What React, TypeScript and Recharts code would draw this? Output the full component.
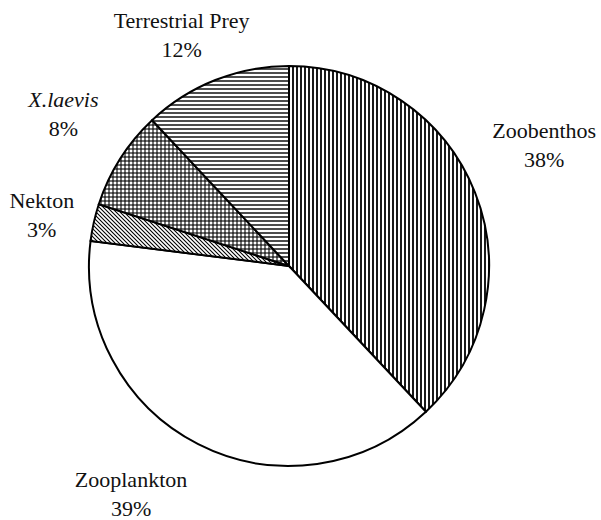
import { PieChart, Pie, Cell } from 'recharts'

const categories = ['Zoobenthos', 'Zooplankton', 'Nekton', 'X.laevis', 'Terrestrial Prey']
const shares = [38, 39, 3, 8, 12]

const data = categories.map((name, i) => ({ name, value: shares[i] }))

// fill pattern for each slice, same order as categories
const fills = ['url(#vert)', '#ffffff', 'url(#diag)', 'url(#cross)', 'url(#horiz)']
// nudges so labels sit where the original placed them
const nudges = [
  [32, -40],
  [-49, 7],
  [-13, -6],
  [-23, -30],
  [-19, -15],
]

const FONT = 'Liberation Serif'
const RAD = Math.PI / 180

function renderLabel(props: any) {
  const { cx, cy, midAngle, outerRadius, index } = props
  const r = outerRadius + 40
  const x = cx + r * Math.cos(-midAngle * RAD) + nudges[index][0]
  const y = cy + r * Math.sin(-midAngle * RAD) + nudges[index][1]
  const italic = categories[index] === 'X.laevis'
  return (
    <text x={x} y={y} textAnchor="middle" fill="#111" style={{ fontFamily: FONT, fontSize: 22 }}>
      <tspan x={x} fontStyle={italic ? 'italic' : 'normal'}>
        {categories[index]}
      </tspan>
      <tspan x={x} dy={29}>
        {shares[index]}%
      </tspan>
    </text>
  )
}

export default function App() {
  return (
    <div style={{ position: 'absolute', left: 0, top: 0, background: '#fff' }}>
      <PieChart width={601} height={520} margin={{ top: 0, right: 0, bottom: 0, left: 0 }}>
        <defs>
          <pattern id="vert" width="4" height="4" patternUnits="userSpaceOnUse">
            <rect width="4" height="4" fill="#fff" />
            <line x1="1" y1="0" x2="1" y2="4" stroke="#000" strokeWidth="1.8" />
          </pattern>
          <pattern id="horiz" width="4" height="4" patternUnits="userSpaceOnUse">
            <rect width="4" height="4" fill="#fff" />
            <line x1="0" y1="1" x2="4" y2="1" stroke="#000" strokeWidth="1.4" />
          </pattern>
          <pattern id="cross" width="4" height="4" patternUnits="userSpaceOnUse">
            <rect width="4" height="4" fill="#fff" />
            <line x1="0" y1="1" x2="4" y2="1" stroke="#000" strokeWidth="1.1" />
            <line x1="1" y1="0" x2="1" y2="4" stroke="#000" strokeWidth="1.1" />
          </pattern>
          <pattern id="diag" width="4" height="4" patternUnits="userSpaceOnUse">
            <rect width="4" height="4" fill="#fff" />
            <line x1="0" y1="0" x2="4" y2="4" stroke="#000" strokeWidth="1.1" />
            <line x1="-1" y1="3" x2="1" y2="5" stroke="#000" strokeWidth="1.1" />
            <line x1="3" y1="-1" x2="5" y2="1" stroke="#000" strokeWidth="1.1" />
          </pattern>
        </defs>
        <Pie
          data={data}
          dataKey="value"
          nameKey="name"
          cx={289}
          cy={266}
          outerRadius={200}
          startAngle={90}
          endAngle={-270}
          stroke="#000"
          strokeWidth={2}
          label={renderLabel}
          labelLine={false}
          isAnimationActive={false}
        >
          {data.map((d, i) => (
            <Cell key={d.name} fill={fills[i]} />
          ))}
        </Pie>
      </PieChart>
    </div>
  )
}
